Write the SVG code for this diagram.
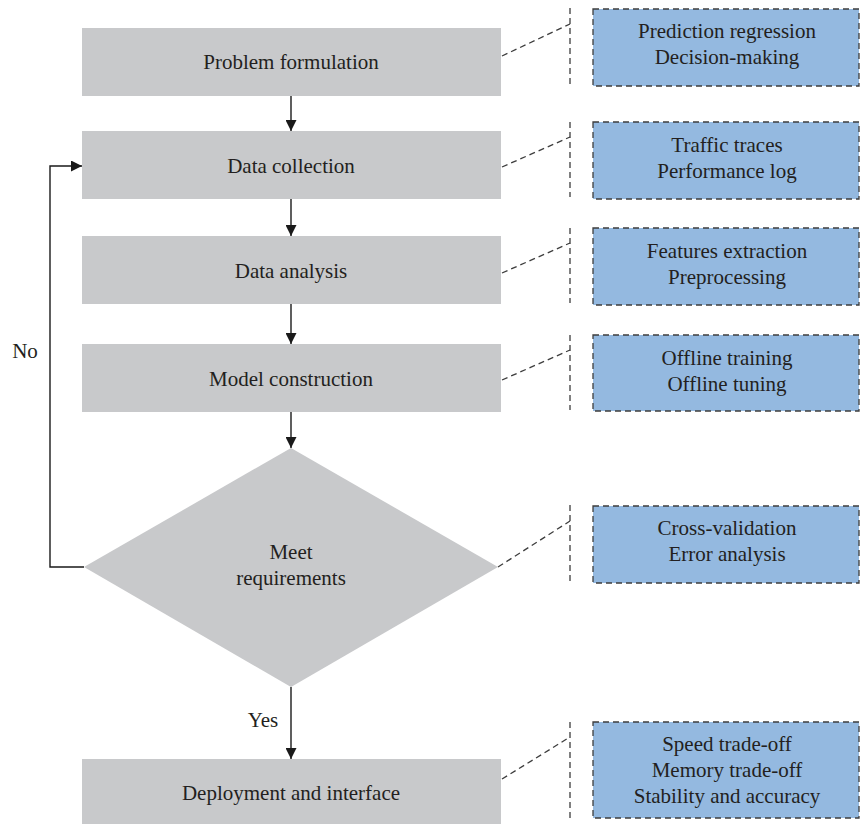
<svg xmlns="http://www.w3.org/2000/svg" width="860" height="824" viewBox="0 0 860 824">
  <style>
    .step { fill: #c8c9cb; }
    .note { fill: #94b9e0; stroke: #3d3d3d; stroke-width: 1.3; stroke-dasharray: 6 4; }
    .lead { fill: none; stroke: #3d3d3d; stroke-width: 1.3; stroke-dasharray: 6 4; }
    .flow { fill: none; stroke: #1a1a1a; stroke-width: 1.4; }
    text { font-family: "Liberation Serif", "Times New Roman", serif; font-size: 21px; fill: #231f20; text-anchor: middle; }
  </style>
  <defs>
    <marker id="arrow" viewBox="0 0 10 10" refX="10" refY="5" markerWidth="11" markerHeight="11" markerUnits="userSpaceOnUse" orient="auto">
      <path d="M0,0 L10,5 L0,10 Z" fill="#1a1a1a"/>
    </marker>
  </defs>

  <!-- process steps -->
  <g id="problem">
    <rect class="step" x="82" y="28" width="419" height="68"/>
    <text x="291" y="69">Problem formulation</text>
  </g>
  <g id="collection">
    <rect class="step" x="82" y="131" width="419" height="68"/>
    <text x="291" y="173">Data collection</text>
  </g>
  <g id="analysis">
    <rect class="step" x="82" y="236" width="419" height="68"/>
    <text x="291" y="278">Data analysis</text>
  </g>
  <g id="model">
    <rect class="step" x="82" y="344" width="419" height="68"/>
    <text x="291" y="386">Model construction</text>
  </g>
  <g id="check">
    <polygon class="step" points="291,448 498,567 291,687 84,567"/>
    <text x="291" y="559">Meet</text>
    <text x="291" y="585">requirements</text>
  </g>
  <g id="deploy">
    <rect class="step" x="82" y="759" width="419" height="66"/>
    <text x="291" y="800">Deployment and interface</text>
  </g>

  <!-- side notes -->
  <g id="note-problem">
    <rect class="note" x="593" y="9" width="266" height="77"/>
    <text x="727" y="38">Prediction regression</text>
    <text x="727" y="64">Decision-making</text>
  </g>
  <g id="note-collection">
    <rect class="note" x="593" y="122" width="266" height="77"/>
    <text x="727" y="152">Traffic traces</text>
    <text x="727" y="178">Performance log</text>
  </g>
  <g id="note-analysis">
    <rect class="note" x="593" y="228" width="266" height="77"/>
    <text x="727" y="258">Features extraction</text>
    <text x="727" y="284">Preprocessing</text>
  </g>
  <g id="note-model">
    <rect class="note" x="593" y="335" width="266" height="76"/>
    <text x="727" y="365">Offline training</text>
    <text x="727" y="391">Offline tuning</text>
  </g>
  <g id="note-check">
    <rect class="note" x="593" y="506" width="266" height="77"/>
    <text x="727" y="535">Cross-validation</text>
    <text x="727" y="561">Error analysis</text>
  </g>
  <g id="note-deploy">
    <rect class="note" x="593" y="722" width="266" height="96"/>
    <text x="727" y="751">Speed trade-off</text>
    <text x="727" y="777">Memory trade-off</text>
    <text x="727" y="803">Stability and accuracy</text>
  </g>

  <!-- connectors -->
  <g id="connectors">
    <line class="flow" x1="291" y1="96" x2="291" y2="131" marker-end="url(#arrow)"/>
    <line class="flow" x1="291" y1="199" x2="291" y2="236" marker-end="url(#arrow)"/>
    <line class="flow" x1="291" y1="304" x2="291" y2="344" marker-end="url(#arrow)"/>
    <line class="flow" x1="291" y1="412" x2="291" y2="448" marker-end="url(#arrow)"/>
    <line class="flow" x1="291" y1="687" x2="291" y2="759" marker-end="url(#arrow)"/>
    <polyline class="flow" points="84,567 50,567 50,166 82,166" marker-end="url(#arrow)"/>
    <text x="25" y="358">No</text>
    <text x="263" y="727">Yes</text>

    <!-- dashed leaders to notes -->
    <line class="lead" x1="570" y1="8" x2="570" y2="84"/>
    <line class="lead" x1="502" y1="56" x2="570" y2="24"/>
    <line class="lead" x1="570" y1="122" x2="570" y2="197"/>
    <line class="lead" x1="502" y1="167" x2="570" y2="137"/>
    <line class="lead" x1="570" y1="228" x2="570" y2="303"/>
    <line class="lead" x1="502" y1="273" x2="570" y2="243"/>
    <line class="lead" x1="570" y1="335" x2="570" y2="410"/>
    <line class="lead" x1="502" y1="380" x2="570" y2="350"/>
    <line class="lead" x1="570" y1="505" x2="570" y2="581"/>
    <line class="lead" x1="498" y1="567" x2="570" y2="521"/>
    <line class="lead" x1="570" y1="722" x2="570" y2="818"/>
    <line class="lead" x1="502" y1="779" x2="570" y2="737"/>
  </g>
</svg>
